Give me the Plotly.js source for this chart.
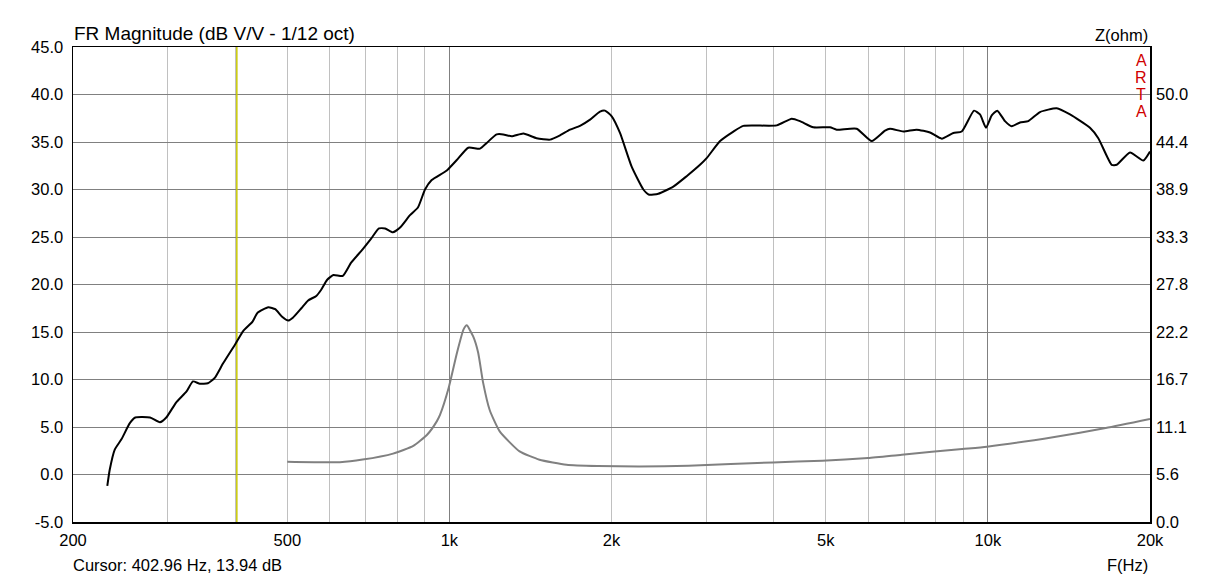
<!DOCTYPE html>
<html>
<head>
<meta charset="utf-8">
<script src="https://cdn.plot.ly/plotly-3.0.1.min.js"></script>
<style>html,body{margin:0;padding:0;background:#fff;}#chart{width:1222px;height:579px;}</style>
</head>
<body>
<div id="chart"></div>
<script>
// FR magnitude (dB V/V)
const frFreq = [231.6,234,239,246,255,261,278,290,298,311,325,334,344,356,367,380,401,414,431,440,461,475,489,502,512,531,546,566,578,593,609,634,657,690,715,740,760,785,810,845,874,901,927,989,1032,1084,1140,1173,1224,1259,1305,1372,1452,1538,1605,1675,1748,1825,1904,1945,2002,2074,2180,2292,2350,2443,2605,2758,2920,3004,3182,3368,3514,4054,4322,4477,4739,5090,5238,5706,6084,6442,6580,6966,7374,7808,8210,8626,8942,9424,9668,9920,10165,10410,10758,11072,11472,11886,12494,13418,14206,15472,16034,16978,17346,18362,19438,20000];
const frDb = [-1.2,0.5,2.6,3.7,5.4,6.0,6.0,5.5,6.0,7.6,8.75,9.8,9.55,9.6,10.2,11.7,13.8,15.1,16.1,17.0,17.6,17.4,16.6,16.2,16.5,17.5,18.3,18.8,19.45,20.5,21.0,20.9,22.3,23.7,24.8,25.9,25.9,25.5,26.0,27.3,28.1,30.0,31.0,32.0,33.1,34.4,34.3,34.9,35.8,35.8,35.6,35.9,35.4,35.25,35.7,36.3,36.7,37.35,38.2,38.3,37.7,35.95,32.4,30.0,29.45,29.55,30.3,31.4,32.6,33.3,35.1,36.1,36.7,36.75,37.45,37.2,36.55,36.55,36.3,36.4,35.1,36.2,36.4,36.1,36.3,36.0,35.35,35.95,36.1,38.3,37.9,36.5,37.8,38.3,37.2,36.65,37.05,37.2,38.15,38.55,37.9,36.5,35.4,32.6,32.6,33.9,33.05,34.0];

// Impedance (ohm)
const zFreq = [500,626,690,786,857,909,948,961,997,1033,1062,1077,1107,1131,1155,1188,1240,1350,1470,1650,1884,2250,2780,3990,4925,5990,6920,8960,9960,13290,16550,20000];
const zOhm = [7.05,7.0,7.3,8.0,8.9,10.2,11.8,12.55,15.7,19.8,22.5,23.0,21.7,19.8,16.3,13.1,10.6,8.26,7.29,6.7,6.55,6.5,6.58,6.97,7.17,7.48,7.87,8.54,8.81,9.94,10.99,12.05];

// Cursor
const cursorHz = 402.96;
const cursorDb = 13.94;

// Axes
const xTickVals = [200,500,1000,2000,5000,10000,20000];
const xTickText = ["200","500","1k","2k","5k","10k","20k"];
const xMinorGrid = [300,400,500,600,700,800,900,2000,3000,4000,5000,6000,7000,8000,9000];
const xDecadeGrid = [1000,10000];
const yLeftTicks = [-5,0,5,10,15,20,25,30,35,40,45];
const yRightTicks = [0,5.5556,11.1111,16.6667,22.2222,27.7778,33.3333,38.8889,44.4444,50.0];
const yRightText = ["0.0","5.6","11.1","16.7","22.2","27.8","33.3","38.9","44.4","50.0"];
const xRange = [200,20000];
const yLeftRange = [-5,45];
const yRightRange = [0,55.5556];

const FONT = "Liberation Sans, Arial, sans-serif";

const traces = [
  {x:[cursorHz,cursorHz], y:yLeftRange, xaxis:'x', yaxis:'y', mode:'lines',
   line:{color:'#c8c800', width:1.5}, hoverinfo:'skip', showlegend:false},
  {x:frFreq, y:frDb, xaxis:'x', yaxis:'y', mode:'lines',
   line:{color:'#000000', width:2, shape:'spline', smoothing:0.5}, showlegend:false},
  {x:zFreq, y:zOhm, xaxis:'x2', yaxis:'y2', mode:'lines',
   line:{color:'#808080', width:2, shape:'spline', smoothing:0.5}, showlegend:false}
];

const letters = ["A","R","T","A"];
const artaAnn = letters.map((l,i)=>({
  text:l, xref:'paper', yref:'paper', x:1, y:1, xanchor:'center', yanchor:'middle',
  xshift:-9, yshift:-13 - 17*i, showarrow:false, font:{family:FONT, size:16, color:'#d00000'}
}));

const layout = {
  width:1222, height:579,
  margin:{l:73, r:72, t:47, b:57, pad:0},
  paper_bgcolor:'#ffffff', plot_bgcolor:'#ffffff',
  font:{family:FONT, size:16, color:'#000000'},
  showlegend:false, hovermode:false,
  xaxis:{type:'log', range:xRange.map(Math.log10), tickmode:'array', tickvals:xTickVals, ticktext:xTickText,
    showgrid:false, zeroline:false, showline:true, linecolor:'#000000', linewidth:1.5, mirror:true,
    ticks:'', ticklabelstandoff:3, tickfont:{family:FONT, size:16.5, color:'#000'},
    minor:{tickmode:'array', tickvals:xMinorGrid, showgrid:true, gridcolor:'#c0c0c0', gridwidth:1, ticks:''}},
  xaxis2:{type:'log', range:xRange.map(Math.log10), overlaying:'x', tickmode:'array', tickvals:xDecadeGrid,
    showticklabels:false, showgrid:true, gridcolor:'#808080', gridwidth:1, zeroline:false, showline:false, ticks:'', anchor:'y2'},
  yaxis:{range:yLeftRange, tickmode:'array', tickvals:yLeftTicks, ticktext:yLeftTicks.map(v=>v.toFixed(1)),
    showgrid:true, gridcolor:'#808080', gridwidth:1, zeroline:false, showline:true, linecolor:'#000000', linewidth:1.5, mirror:true,
    ticks:'', ticklabelstandoff:5, tickfont:{family:FONT, size:16.5, color:'#000'}},
  yaxis2:{range:yRightRange, overlaying:'y', side:'right', anchor:'x2', tickmode:'array', tickvals:yRightTicks, ticktext:yRightText,
    showgrid:false, zeroline:false, showline:false, ticks:'', ticklabelstandoff:5, tickfont:{family:FONT, size:16.5, color:'#000'}},
  annotations:[
    {text:'FR Magnitude (dB V/V - 1/12 oct)', xref:'paper', yref:'paper', x:0, y:1, xanchor:'left', yanchor:'middle',
     yshift:14, xshift:-1, showarrow:false, font:{family:FONT, size:19, color:'#000'}},
    {text:'Z(ohm)', xref:'paper', yref:'paper', x:1, y:1, xanchor:'right', yanchor:'middle',
     yshift:12, showarrow:false, font:{family:FONT, size:16.5, color:'#000'}},
    {text:'Cursor: ' + cursorHz.toFixed(2) + ' Hz, ' + cursorDb.toFixed(2) + ' dB', xref:'paper', yref:'paper', x:0, y:0,
     xanchor:'left', yanchor:'middle', yshift:-43, xshift:-2, showarrow:false, font:{family:FONT, size:16.5, color:'#000'}},
    {text:'F(Hz)', xref:'paper', yref:'paper', x:1, y:0, xanchor:'right', yanchor:'middle',
     yshift:-43, showarrow:false, font:{family:FONT, size:16.5, color:'#000'}}
  ].concat(artaAnn)
};

Plotly.newPlot('chart', traces, layout, {displayModeBar:false, staticPlot:true});
</script>
</body>
</html>
